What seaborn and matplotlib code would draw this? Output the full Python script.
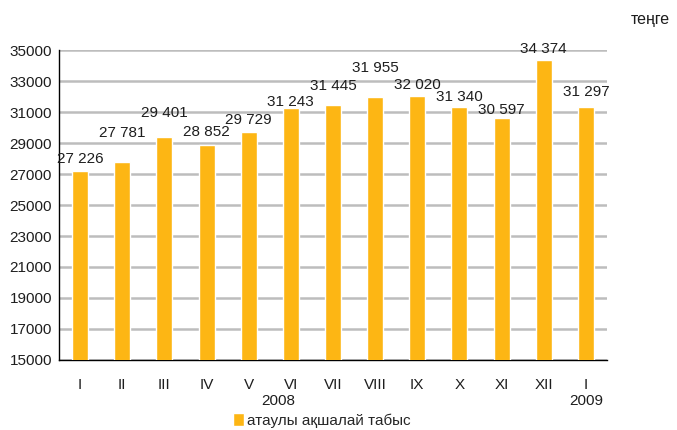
import numpy as np
import pandas as pd
import matplotlib
matplotlib.use('Agg')
import matplotlib.pyplot as plt
import matplotlib.transforms as mtransforms
import seaborn as sns

# monthly nominal money income, tenge
months = ['I', 'II', 'III', 'IV', 'V', 'VI', 'VII', 'VIII', 'IX', 'X', 'XI', 'XII', 'I']
years = ['2008'] * 12 + ['2009']
income = [27226, 27781, 29401, 28852, 29729, 31243, 31445, 31955, 32020, 31340, 30597, 34374, 31297]
series_name = 'атаулы ақшалай табыс'
unit = 'теңге'

# how far each value label sits above its bar (pixels), as in the original
label_lift = [12, 29, 24, 13, 12, 6, 19, 29, 11, 10, 8, 11, 15]

df = pd.DataFrame({'month': months, 'year': years, 'income': income})
df['key'] = df['month'] + ' ' + df['year']

sns.set_style('white')
plt.rcParams['font.family'] = ['Liberation Sans', 'DejaVu Sans']

bar_color = '#FDB614'
txt_color = '#1E1E1E'
fs = 11

fig = plt.figure(figsize=(6.77, 4.30), dpi=100)
ax = fig.add_axes([0.0871, 0.1628, 0.8095, 0.7209])

sns.barplot(data=df, x='key', y='income', color=bar_color, width=0.38,
            saturation=1, label=series_name, ax=ax, zorder=3)

ax.set_ylim(15000, 35000)
ax.set_xlim(-0.5, len(months) - 0.5)
ax.set_yticks(np.arange(15000, 35001, 2000))
ax.yaxis.grid(True, color='#BDBDBD', linewidth=1.8, zorder=0)
ax.set_axisbelow(True)

ax.set_xticks(range(len(months)))
ax.set_xticklabels(months)
ax.set_xticks(np.arange(-0.5, len(months), 1), minor=True)
ax.tick_params(axis='x', which='major', length=0, pad=13, labelsize=fs, labelcolor=txt_color)
ax.tick_params(axis='x', which='minor', length=5, width=1, color='black', direction='out')
ax.tick_params(axis='y', length=4, width=1, color='black', direction='out', pad=1,
               labelsize=fs, labelcolor=txt_color)
ax.set_xlabel('')
ax.set_ylabel('')

for side in ['top', 'right']:
    ax.spines[side].set_visible(False)
for side in ['left', 'bottom']:
    ax.spines[side].set_color('black')
    ax.spines[side].set_linewidth(1)

# value labels with space as thousands separator
for i, v in enumerate(income):
    txt = '{:,}'.format(v).replace(',', ' ')
    ax.annotate(txt, xy=(i, v), xytext=(0, label_lift[i]), textcoords='offset pixels',
                ha='center', va='center', fontsize=fs, color=txt_color)

# year captions under the months
trans = mtransforms.blended_transform_factory(ax.transData, fig.transFigure)
ax.text(4.7, 0.068, '2008', transform=trans, ha='center', va='center', fontsize=fs, color=txt_color)
ax.text(12, 0.068, '2009', transform=trans, ha='center', va='center', fontsize=fs, color=txt_color)

fig.text(0.96, 0.955, unit, ha='center', va='center', fontsize=11.5, color=txt_color)

if ax.legend_ is not None:
    ax.legend_.remove()
handles, labels = ax.get_legend_handles_labels()
fig.legend(handles, labels, loc='center', bbox_to_anchor=(0.475, 0.022), frameon=False,
           fontsize=fs, handlelength=0.7, handleheight=0.9, handletextpad=0.2, borderpad=0)

plt.savefig('out.png', dpi=100)
